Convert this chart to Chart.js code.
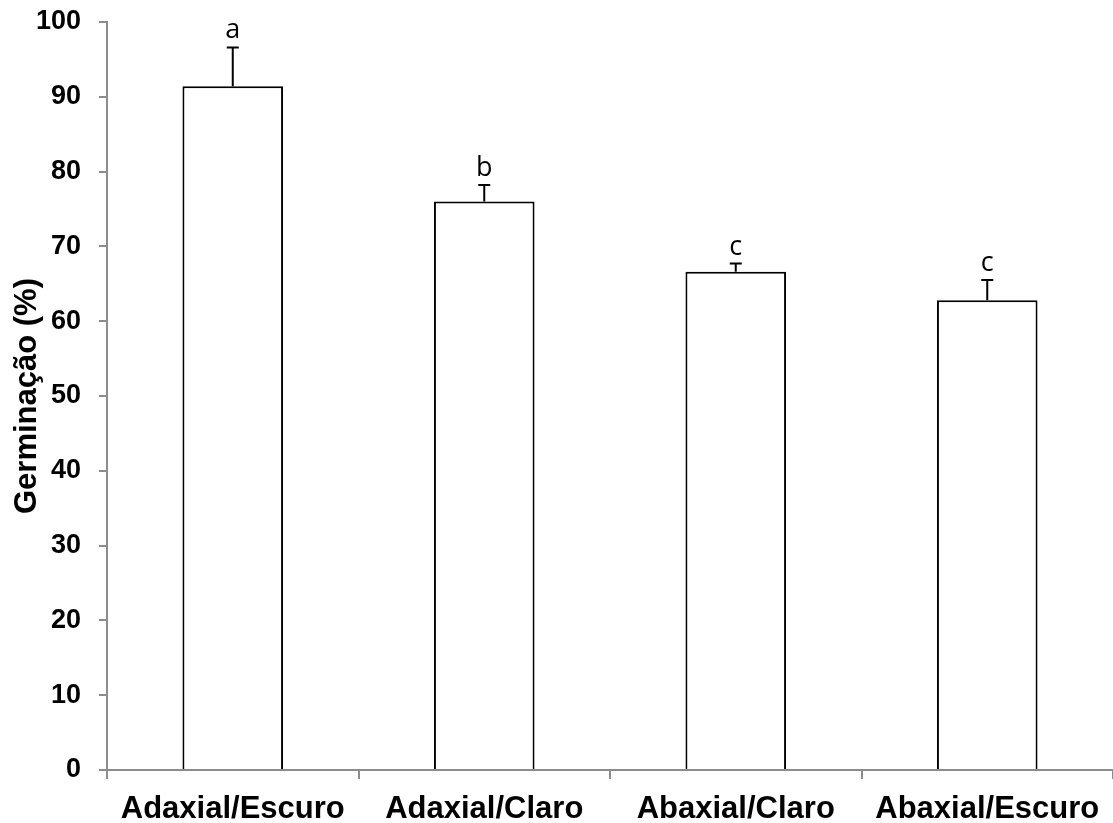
<!DOCTYPE html>
<html>
<head>
<meta charset="utf-8">
<script src="https://cdn.jsdelivr.net/npm/chart.js@4"></script>
<style>
  html, body { margin: 0; padding: 0; background: #fff; }
  #wrap { width: 1113px; height: 823px; }
</style>
</head>
<body>
<div id="wrap"><canvas id="c" width="1113" height="823"></canvas></div>
<script>
const categories = ['Adaxial/Escuro', 'Adaxial/Claro', 'Abaxial/Claro', 'Abaxial/Escuro'];
const germination = [91.4, 76.0, 66.6, 62.8];
const errors = [5.2, 2.2, 1.1, 2.7];
const letters = ['a', 'b', 'c', 'c'];
const yTicks = [0, 10, 20, 30, 40, 50, 60, 70, 80, 90, 100];

const AXIS = '#8c8c8c';
const FONT = '"Liberation Sans", Arial, sans-serif';

const errorPlugin = {
  id: 'errorBars',
  afterDatasetsDraw(chart) {
    const ctx = chart.ctx;
    const meta = chart.getDatasetMeta(0);
    const y = chart.scales.y;
    ctx.save();
    ctx.strokeStyle = '#000';
    ctx.lineWidth = 2;
    ctx.fillStyle = '#000';
    ctx.font = '27px "Open Sans", sans-serif';
    ctx.textAlign = 'center';
    ctx.textBaseline = 'alphabetic';
    meta.data.forEach((bar, i) => {
      const x = bar.x;
      const yTop = y.getPixelForValue(germination[i]);
      const yErr = y.getPixelForValue(germination[i] + errors[i]);
      ctx.beginPath();
      ctx.moveTo(x, yTop);
      ctx.lineTo(x, yErr);
      ctx.moveTo(x - 6, yErr);
      ctx.lineTo(x + 6, yErr);
      ctx.stroke();
      ctx.fillText(letters[i], x, yErr - 9);
    });
    ctx.restore();
  }
};

new Chart(document.getElementById('c'), {
  type: 'bar',
  data: {
    labels: categories,
    datasets: [{
      data: germination,
      backgroundColor: '#ffffff',
      borderColor: '#000000',
      borderWidth: 2,
      borderSkipped: 'start',
      barPercentage: 0.4,
      categoryPercentage: 1.0
    }]
  },
  options: {
    responsive: false,
    devicePixelRatio: 1,
    animation: false,
    layout: { padding: { top: 22, right: 0, bottom: 0, left: 0 } },
    plugins: { legend: { display: false }, tooltip: { enabled: false } },
    scales: {
      x: {
        grid: { display: true, drawOnChartArea: false, drawTicks: true, tickLength: 9, color: AXIS, lineWidth: 2, offset: true },
        border: { display: true, color: AXIS, width: 2 },
        ticks: { color: '#000', font: { family: FONT, size: 31, weight: 'bold' }, padding: 12, maxRotation: 0, autoSkip: false },
        afterFit(scale) { scale.height = 53; scale.paddingLeft = 0; scale.paddingRight = 0; }
      },
      y: {
        min: 0, max: 100,
        afterBuildTicks(scale) { scale.ticks = yTicks.map(v => ({ value: v })); },
        grid: { display: true, drawOnChartArea: false, drawTicks: true, tickLength: 8, color: AXIS, lineWidth: 2 },
        border: { display: true, color: AXIS, width: 2 },
        ticks: { color: '#000', font: { family: FONT, size: 27, weight: 'bold' }, padding: 18 },
        title: { display: true, text: 'Germinação (%)', color: '#000', font: { family: FONT, size: 31, weight: 'bold' }, padding: { top: 9, bottom: 0 } },
        afterFit(scale) { scale.width = 107; scale.paddingTop = 0; scale.paddingBottom = 0; }
      }
    }
  },
  plugins: [errorPlugin]
});
</script>
</body>
</html>
